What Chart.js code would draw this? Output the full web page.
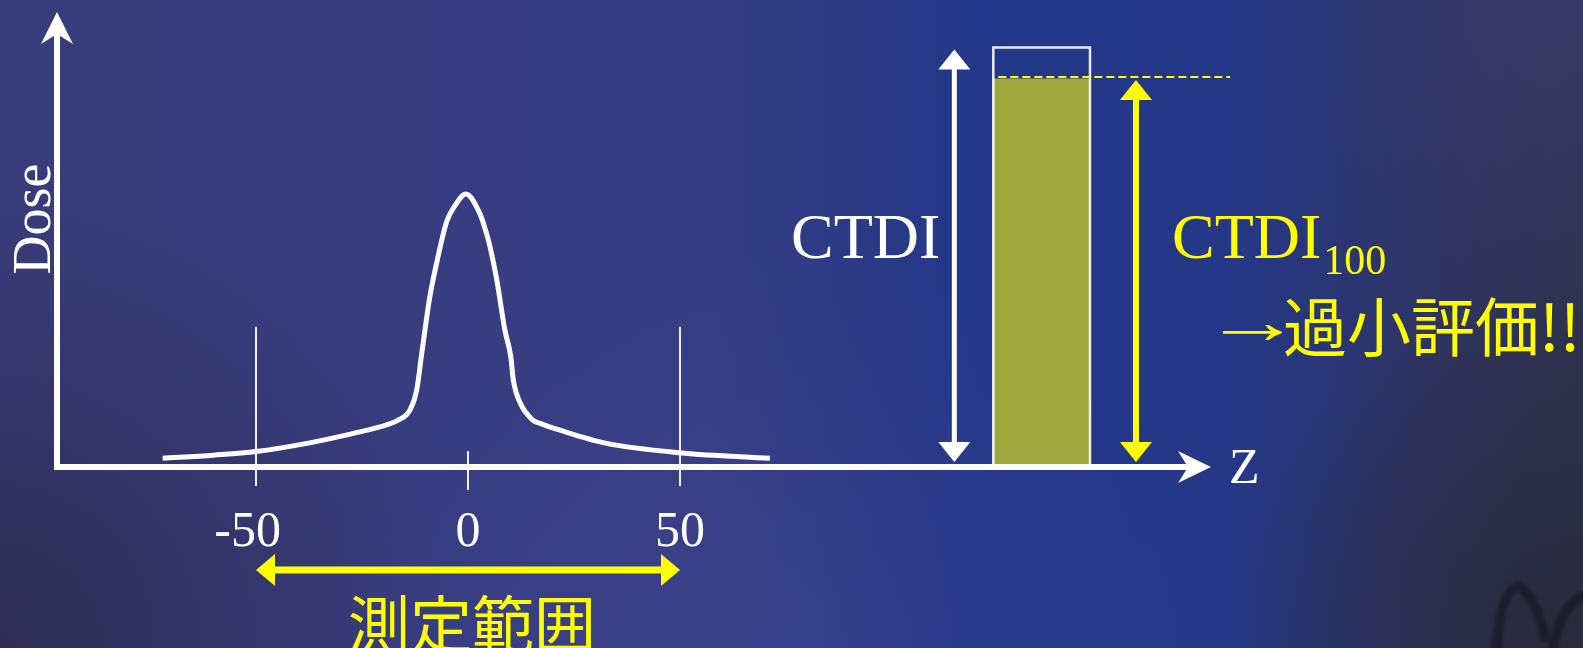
<!DOCTYPE html>
<html lang="ja">
<head>
<meta charset="utf-8">
<title>CTDI と CTDI100</title>
<script src="https://cdn.jsdelivr.net/npm/chart.js@4.4.1/dist/chart.umd.min.js"></script>
<style>
  html, body { margin: 0; padding: 0; background: #353b7a; overflow: hidden; }
  #wrap { position: relative; width: 1583px; height: 648px; }
  canvas { display: block; }
</style>
</head>
<body>
<div id="wrap"><canvas id="c" width="1583" height="648"></canvas></div>
<script>
// Single-slice dose profile along z (mm) and relative dose
const profileZ    = [-72, -60, -50, -38, -27, -20.8, -16.5, -13.7, -12.1, -10.9, -9.0, -7.4, -5.0, -3.1, -0.5,
                     2.8, 4.0, 5.2, 6.8, 8.7, 10.1, 10.7, 12.3, 15.3, 17.0, 21.7, 32.7, 50.5, 71.2];
const profileDose = [1.9, 2.6, 3.4, 5.2, 7.4, 8.8, 10.3, 12.5, 16.9, 25.0, 37.4, 44.8, 54.0, 57.4, 60,
                     55.7, 52.5, 48.4, 41.1, 30.1, 24.2, 19.1, 14.1, 10.3, 9.6, 8.1, 5.2, 3.1, 1.9];

// z-axis ticks
const tickValues = [-50, 0, 50];
const tickLabels = ['-50', '0', '50'];

// Integration range of the 100 mm chamber
const rangeZ = [-50, 50];

// Equivalent rectangle: z extent, full-profile CTDI and CTDI100 heights
const ctdiZ    = [123.9, 146.7];
const ctdiFull = 92.2;
const ctdi100  = 85.3;

// Axis ranges (z in mm, dose in arbitrary units)
const zRange    = [-96.93, 175.24];
const doseRange = [0, 100];

const SERIF  = '"Liberation Serif", "Times New Roman", serif';
const CJK    = '"Noto Sans CJK JP", "Noto Sans CJK SC", sans-serif';
const WHITE  = '#ffffff';
const YELLOW = '#ffff00';

// Arrow head pointing along (dx, dy); notch > 0 gives a swept-back head
function head(ctx, tx, ty, dx, dy, len, half, notch) {
  const bx = tx - dx * len, by = ty - dy * len;
  const px = -dy, py = dx;
  ctx.beginPath();
  ctx.moveTo(tx, ty);
  ctx.lineTo(bx + px * half, by + py * half);
  ctx.lineTo(tx - dx * (len - notch), ty - dy * (len - notch));
  ctx.lineTo(bx - px * half, by - py * half);
  ctx.closePath();
  ctx.fill();
}

// Vertical double-headed arrow
function vDouble(ctx, x, yTop, yBot, shaft, len, half, color) {
  ctx.fillStyle = color;
  ctx.fillRect(x - shaft / 2, yTop + len - 1, shaft, (yBot - len + 1) - (yTop + len - 1));
  head(ctx, x, yTop, 0, -1, len, half, 0);
  head(ctx, x, yBot, 0, 1, len, half, 0);
}

// Horizontal double-headed arrow
function hDouble(ctx, xL, xR, y, shaft, len, half, color) {
  ctx.fillStyle = color;
  ctx.fillRect(xL + len - 1, y - shaft / 2, (xR - len + 1) - (xL + len - 1), shaft);
  head(ctx, xL, y, -1, 0, len, half, 0);
  head(ctx, xR, y, 1, 0, len, half, 0);
}

const slideBackground = {
  id: 'slideBackground',
  beforeDraw(chart) {
    const ctx = chart.ctx, W = chart.width, H = chart.height;
    ctx.save();
    const g = ctx.createLinearGradient(0, 0, W, 0);
    g.addColorStop(0.00, '#383c7a');
    g.addColorStop(0.45, '#363d82');
    g.addColorStop(0.62, '#223789');
    g.addColorStop(0.78, '#253887');
    g.addColorStop(0.90, '#2e3464');
    g.addColorStop(1.00, '#30334f');
    ctx.fillStyle = g;
    ctx.fillRect(0, 0, W, H);

    const blob = (x, y, r, c0, c1) => {
      const rg = ctx.createRadialGradient(x, y, 0, x, y, r);
      rg.addColorStop(0, c0);
      rg.addColorStop(1, c1);
      ctx.fillStyle = rg;
      ctx.fillRect(0, 0, W, H);
    };
    blob(0, H, 450, 'rgba(44,40,72,0.75)', 'rgba(44,40,72,0)');
    blob(760, H + 60, 460, 'rgba(66,70,150,0.45)', 'rgba(66,70,150,0)');
    blob(W, H, 360, 'rgba(40,40,54,0.85)', 'rgba(40,40,54,0)');
    blob(W, 0, 300, 'rgba(58,62,118,0.6)', 'rgba(58,62,118,0)');

    // faint emblem in the lower right corner
    ctx.strokeStyle = 'rgba(24,24,34,0.7)';
    ctx.lineWidth = 10;
    ctx.filter = 'blur(1.5px)';
    ctx.beginPath();
    ctx.moveTo(1496, 652);
    ctx.quadraticCurveTo(1500, 592, 1518, 586);
    ctx.quadraticCurveTo(1538, 598, 1546, 642);
    ctx.stroke();
    ctx.beginPath();
    ctx.moveTo(1552, 652);
    ctx.quadraticCurveTo(1560, 602, 1588, 594);
    ctx.stroke();
    ctx.filter = 'none';
    ctx.restore();
  }
};

const profileDecor = {
  id: 'profileDecor',
  afterDatasetsDraw(chart) {
    const ctx = chart.ctx;
    const xs = chart.scales.x, ys = chart.scales.y;
    const area = chart.chartArea;
    const X = v => xs.getPixelForValue(v);
    const Y = v => ys.getPixelForValue(v);
    const x0 = area.left, yAxis = area.bottom;

    ctx.save();

    // Equivalent rectangle outline (CTDI over the whole profile)
    ctx.strokeStyle = 'rgba(255,255,255,0.9)';
    ctx.lineWidth = 2.5;
    ctx.beginPath();
    ctx.moveTo(X(ctdiZ[0]), yAxis);
    ctx.lineTo(X(ctdiZ[0]), Y(ctdiFull));
    ctx.lineTo(X(ctdiZ[1]), Y(ctdiFull));
    ctx.lineTo(X(ctdiZ[1]), yAxis);
    ctx.stroke();

    // CTDI100 level
    ctx.strokeStyle = YELLOW;
    ctx.lineWidth = 2;
    ctx.setLineDash([8, 4]);
    ctx.beginPath();
    ctx.moveTo(X(ctdiZ[0]) + 5, Y(ctdi100) - 2);
    ctx.lineTo(1230, Y(ctdi100) - 2);
    ctx.stroke();
    ctx.setLineDash([]);

    // Axes with swept arrow heads
    ctx.fillStyle = WHITE;
    ctx.fillRect(x0 - 3, area.top + 22, 6, yAxis + 3 - (area.top + 22));
    head(ctx, x0, area.top, 0, -1, 32, 16, 10);
    ctx.fillRect(x0 - 3, yAxis - 3, area.right - 22 - (x0 - 3), 6);
    head(ctx, area.right, yAxis, 1, 0, 33, 16, 10);

    // Tick guides
    ctx.strokeStyle = 'rgba(255,255,255,0.92)';
    ctx.lineWidth = 2;
    tickValues.forEach(v => {
      const px = X(v);
      ctx.beginPath();
      if (v === 0) {
        ctx.moveTo(px, yAxis - 16);
        ctx.lineTo(px, yAxis + 23);
      } else {
        ctx.moveTo(px, Y(30.8));
        ctx.lineTo(px, yAxis + 19);
      }
      ctx.stroke();
    });

    // Tick labels
    ctx.fillStyle = WHITE;
    ctx.font = '50px ' + SERIF;
    ctx.textAlign = 'center';
    ctx.textBaseline = 'alphabetic';
    tickValues.forEach((v, i) => {
      const label = tickLabels[i];
      let px = X(v);
      if (label.startsWith('-')) px -= ctx.measureText('-').width / 2;
      ctx.fillText(label, px, yAxis + 79);
    });

    // Axis titles
    ctx.font = '50px ' + SERIF;
    ctx.textAlign = 'left';
    ctx.fillText('Z', 1229, 483);
    ctx.save();
    ctx.translate(50, 219);
    ctx.rotate(-Math.PI / 2);
    ctx.textAlign = 'center';
    ctx.font = '54px ' + SERIF;
    ctx.fillText('Dose', 0, 0);
    ctx.restore();

    // Measurement range arrow and caption
    hDouble(ctx, X(rangeZ[0]), X(rangeZ[1]), yAxis + 103, 7, 19, 16, YELLOW);
    ctx.fillStyle = YELLOW;
    ctx.font = '62px ' + CJK;
    ctx.textAlign = 'center';
    ctx.fillText('測定範囲', (X(rangeZ[0]) + X(rangeZ[1])) / 2 + 4, 648);

    // CTDI arrows
    const xWhite = X(ctdiZ[0]) - 39;
    const xYellow = X(ctdiZ[1]) + 46;
    vDouble(ctx, xWhite, Y(ctdiFull) + 2, yAxis - 5, 5, 20, 16, WHITE);
    vDouble(ctx, xYellow, Y(ctdi100) + 1, yAxis - 5, 6, 20, 16, YELLOW);

    // CTDI labels
    ctx.font = '64px ' + SERIF;
    ctx.fillStyle = WHITE;
    ctx.textAlign = 'right';
    ctx.fillText('CTDI', xWhite - 14, 258);

    ctx.fillStyle = YELLOW;
    ctx.textAlign = 'left';
    const xl = xYellow + 36;
    ctx.fillText('CTDI', xl, 258);
    const w = ctx.measureText('CTDI').width;
    ctx.font = '42px ' + SERIF;
    ctx.fillText('100', xl + w + 2, 274);

    // Underestimation note: long thin arrow, then the Japanese text
    ctx.font = '64px ' + SERIF;
    const m = ctx.measureText('→');
    const inkL = m.actualBoundingBoxLeft || 0;
    const ink = (m.actualBoundingBoxRight || m.width) + inkL;
    const asc = m.actualBoundingBoxAscent || 30;
    const desc = m.actualBoundingBoxDescent || -10;
    const sx = 59 / ink;
    ctx.save();
    ctx.translate(1223 + inkL * sx, 332 + (asc - desc) / 2);
    ctx.scale(sx, 1);
    ctx.fillText('→', 0, 0);
    ctx.restore();
    ctx.font = '64px ' + CJK;
    ctx.fillText('過小評価!!', 1283, 351);

    ctx.restore();
  }
};

function build() {
  const profile = profileZ.map((z, i) => ({ x: z, y: profileDose[i] }));
  new Chart(document.getElementById('c'), {
    type: 'line',
    data: {
      datasets: [
        {
          type: 'bar',
          label: 'CTDI100',
          data: [{ x: (ctdiZ[0] + ctdiZ[1]) / 2, y: ctdi100 }],
          backgroundColor: '#a1a83d',
          borderWidth: 0,
          barThickness: 97,
          order: 2
        },
        {
          type: 'line',
          label: 'Dose profile',
          data: profile,
          borderColor: WHITE,
          borderWidth: 5,
          borderCapStyle: 'butt',
          borderJoinStyle: 'round',
          pointRadius: 0,
          cubicInterpolationMode: 'monotone',
          fill: false,
          clip: false,
          order: 1
        }
      ]
    },
    options: {
      responsive: false,
      devicePixelRatio: 1,
      animation: false,
      events: [],
      layout: { padding: { left: 57, top: 12, right: 1583 - 1211, bottom: 648 - 467 } },
      plugins: { legend: { display: false }, tooltip: { enabled: false } },
      scales: {
        x: { type: 'linear', display: false, offset: false, min: zRange[0], max: zRange[1] },
        y: { type: 'linear', display: false, min: doseRange[0], max: doseRange[1] }
      }
    },
    plugins: [slideBackground, profileDecor]
  });
}

const fontsReady = document.fonts && document.fonts.load
  ? Promise.all([
      document.fonts.load('64px "Liberation Serif"', 'CTDI Dose Z -50 100 →'),
      document.fonts.load('64px "Noto Sans CJK JP"', '測定範囲過小評価!!')
    ]).catch(() => {})
  : Promise.resolve();
fontsReady.then(build);
</script>
</body>
</html>
